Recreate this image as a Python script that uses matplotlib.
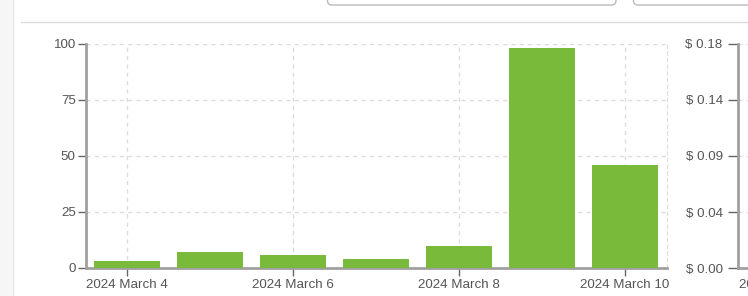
import matplotlib
matplotlib.use("Agg")
import matplotlib.pyplot as plt
from matplotlib.patches import FancyBboxPatch, Rectangle
from matplotlib.lines import Line2D
from matplotlib.ticker import FixedLocator

plt.rcParams['font.family'] = ['Liberation Sans', 'DejaVu Sans']

# ---- data ----
dates = ["2024 March 4", "2024 March 5", "2024 March 6", "2024 March 7",
         "2024 March 8", "2024 March 9", "2024 March 10"]
values = [3, 7, 6, 4, 10, 98, 46]
left_ticks = [0, 25, 50, 75, 100]
cost_ticks = [0.0, 0.045, 0.09, 0.135, 0.18]
cost_labels = ["$ 0.00", "$ 0.04", "$ 0.09", "$ 0.14", "$ 0.18"]
next_chart_ticks = ["2024 March 4"]

W, H = 748, 296
fig = plt.figure(figsize=(W / 100, H / 100), dpi=100)
fig.patch.set_facecolor('white')

def fx(px):
    return px / W

def fy(py):
    return 1 - py / H

# page decorations
fig.patches.append(Rectangle((0, 0), fx(12), 1, transform=fig.transFigure,
                             facecolor='#f6f6f6', edgecolor='none', zorder=0))
fig.lines.append(Line2D([fx(12.5), fx(12.5)], [0, 1], transform=fig.transFigure,
                        color='#e2e2e2', lw=1))
fig.lines.append(Line2D([fx(21), 1], [fy(22), fy(22)], transform=fig.transFigure,
                        color='#dddddd', lw=1))
for x0, x1 in [(327.5, 616), (633.5, 800)]:
    fig.patches.append(FancyBboxPatch((fx(x0), fy(5)), fx(x1 - x0), fy(-20) - fy(5),
                                      boxstyle="round,pad=0,rounding_size=0.006",
                                      transform=fig.transFigure, facecolor='white',
                                      edgecolor='#bbbbbb', lw=1, mutation_aspect=2.5))

bar_color = '#7aba3a'
grid_kw = dict(color='#dcdcdc', linestyle=(0, (3, 3)), linewidth=1)
tick_color = '#555555'
spine_color = '#a0a0a0'
fs = 9.6

ax_bottom = fy(268)
ax_h = (268 - 44) / H

# ---- main chart ----
ax = fig.add_axes([fx(85.5), ax_bottom, fx(666.5) - fx(85.5), ax_h])
x = list(range(len(dates)))
ax.bar(x, values, width=0.8, color=bar_color, zorder=3)
ax.set_xlim(-0.5, 6.5)
ax.set_ylim(0, 100)
ax.yaxis.set_major_locator(FixedLocator(left_ticks))
ax.set_xticks(x[::2])
ax.set_xticklabels(dates[::2])
ax.spines['top'].set_visible(False)
ax.spines['right'].set_color('#dcdcdc')
ax.spines['right'].set_linestyle((0, (3, 3)))
ax.spines['left'].set_color(spine_color)
ax.spines['left'].set_linewidth(2)
ax.spines['bottom'].set_color(spine_color)
ax.spines['bottom'].set_linewidth(2)
ax.grid(True, **grid_kw, zorder=0)
ax.set_axisbelow(True)
ax.tick_params(axis='both', colors='#666666', labelcolor=tick_color, labelsize=fs,
               length=6, width=1, pad=1)
ax.tick_params(axis='x', pad=2)

# ---- next chart (partially visible) ----
ax2 = fig.add_axes([fx(738), ax_bottom, fx(300), ax_h])
ax2.set_xlim(-0.5, 3.1)
ax2.set_ylim(0, 0.18)
ax2.set_yticks(cost_ticks)
ax2.set_yticklabels(cost_labels)
ax2.set_xticks([0])
ax2.set_xticklabels(next_chart_ticks)
for s in ['top', 'right']:
    ax2.spines[s].set_visible(False)
ax2.spines['left'].set_color(spine_color)
ax2.spines['left'].set_linewidth(2)
ax2.spines['bottom'].set_color(spine_color)
ax2.spines['bottom'].set_linewidth(2)
ax2.grid(True, **grid_kw)
ax2.set_axisbelow(True)
ax2.tick_params(axis='both', colors='#666666', labelcolor=tick_color, labelsize=fs,
                length=7, width=1, pad=4)
ax2.tick_params(axis='x', pad=2, length=6)

fig.savefig("out.png", dpi=100)
